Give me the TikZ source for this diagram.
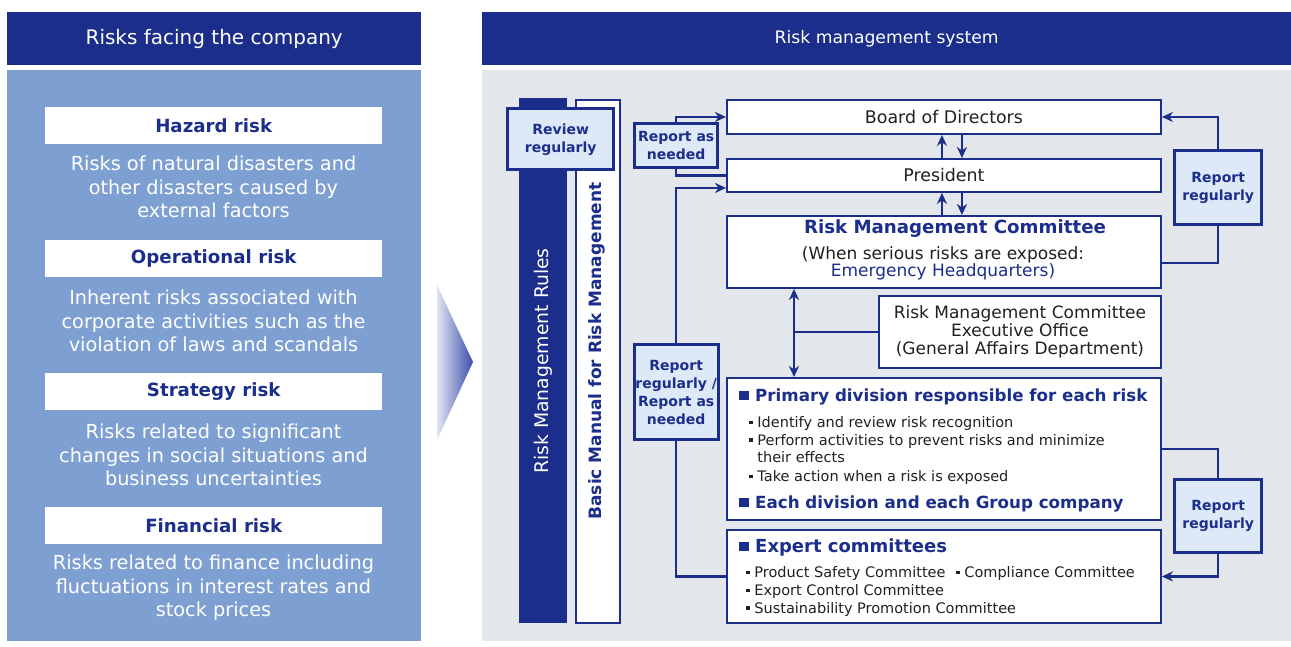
\documentclass[tikz,border=0pt]{standalone}
\usepackage{fontspec}
\setmainfont{DejaVu Sans}
\usetikzlibrary{arrows.meta,calc}
\definecolor{navy}{RGB}{28,46,140}
\definecolor{lblue}{RGB}{222,233,248}
\definecolor{panel}{RGB}{126,159,210}
\definecolor{pgray}{RGB}{227,230,234}
\definecolor{ink}{RGB}{35,31,32}
\definecolor{arrowblue}{RGB}{58,78,170}
\newcommand\fs[1]{\fontsize{#1}{#1}\selectfont}
\newcommand\bigsq{\raisebox{1.5pt}{\rule{10pt}{9pt}}\hspace{6pt}}
\newcommand\smsq{\raisebox{3.3pt}{\rule{3.6pt}{3.6pt}}\hspace{4.6pt}}
\begin{document}
\begin{tikzpicture}[x=1pt,y=-1pt,
  box/.style={draw=navy, line width=1.9pt, fill=white, anchor=north west, inner sep=0pt},
  lbl/.style={draw=navy, line width=3.4pt, fill=lblue, anchor=north west, inner sep=0pt, align=center, font=\fontsize{14}{18}\selectfont\bfseries, text=navy},
  riskbox/.style={fill=white, anchor=north west, inner sep=0pt, minimum width=337pt, minimum height=37pt, font=\fs{18.2}\bfseries, text=navy},
  desc/.style={align=center, text=white, font=\fontsize{19.3}{23.5}\selectfont, inner sep=0pt},
  hdr/.style={fill=navy, anchor=north west, inner sep=0pt, minimum height=53pt, text=white},
  conn/.style={draw=navy, line width=2.2pt},
  tip/.style={-{Stealth[length=11pt,width=10pt,inset=3.5pt]}},
  plain/.style={inner sep=0pt, anchor=base west, text=ink, font=\fs{14.5}},
  heading/.style={inner sep=0pt, anchor=base west, text=navy, font=\fs{16.7}\bfseries},
]
\fill[white] (0,0) rectangle (1291,646);
\useasboundingbox (0,0) rectangle (1291,646);

% ---------- left side ----------
\node[hdr, minimum width=414pt, font=\fs{20}] (lt) at (7,12) {Risks facing the company};
\node[fill=panel, anchor=north west, inner sep=0pt, minimum width=414pt, minimum height=571pt] (lp) at (7,70) {};

\node[riskbox] (hz) at (45,107) {Hazard risk};
\node[desc] (hzd) at (213.5,187) {Risks of natural disasters and\\other disasters caused by\\external factors};
\node[riskbox] (op) at (45,240) {Operational risk};
\node[desc] (opd) at (213.5,321) {Inherent risks associated with\\corporate activities such as the\\violation of laws and scandals};
\node[riskbox] (st) at (45,373) {Strategy risk};
\node[desc] (std) at (213.5,455) {Risks related to significant\\changes in social situations and\\business uncertainties};
\node[riskbox] (fi) at (45,507) {Financial risk};
\node[desc] (fid) at (213.5,588) {Risks related to finance including\\fluctuations in interest rates and\\stock prices};

% big arrow
\shade[left color=arrowblue!15!white, right color=arrowblue] (437,285) -- (473,362) -- (437,440) -- cycle;

% ---------- right side ----------
\node[hdr, minimum width=809pt, font=\fs{17.2}] (rt) at (482,12) {Risk management system};
\node[fill=pgray, anchor=north west, inner sep=0pt, minimum width=809pt, minimum height=571pt] (rp) at (482,70) {};

\node[fill=navy, anchor=north west, inner sep=0pt, minimum width=48pt, minimum height=525pt] (rmr) at (519,98) {};
\node[rotate=90, text=white, font=\fs{18.8}, inner sep=0pt] (rmrt) at (543,361) {Risk Management Rules};
\node[box, minimum width=44pt, minimum height=523pt] (bm) at (575,99) {};
\node[rotate=90, text=navy, font=\fs{17}\bfseries, inner sep=0pt] (bmt) at (597,351) {Basic Manual for Risk Management};
\node[lbl, minimum width=106pt, minimum height=61pt] (rev) at (506,107) {Review\\regularly};

\node[box, minimum width=434pt, minimum height=34pt, font=\fs{17.4}, text=ink] (board) at (726,99) {Board of Directors};
\node[box, minimum width=434pt, minimum height=33pt, font=\fs{17.4}, text=ink] (pres) at (726,158) {President};
\node[box, minimum width=434pt, minimum height=72pt] (rmc) at (726,215) {};
\node[text=navy, font=\fs{18.2}\bfseries, inner sep=0pt] (rmc1) at (955,229) {Risk Management Committee};
\node[text=ink, font=\fs{17}, inner sep=0pt] (rmc2) at (943,255) {(When serious risks are exposed:};
\node[text=navy, font=\fs{17}, inner sep=0pt] (rmc3) at (943,272) {Emergency Headquarters)};

\node[box, minimum width=282pt, minimum height=72pt, align=center, font=\fontsize{17}{18}\selectfont, text=ink] (exec) at (878,295) {Risk Management Committee\\Executive Office\\(General Affairs Department)};

\node[box, minimum width=434pt, minimum height=142pt] (prim) at (726,377) {};
\node[heading] (ph) at (739,401) {\bigsq Primary division responsible for each risk};
\node[plain] (pb1) at (749,427.5) {\smsq Identify and review risk recognition};
\node[plain] (pb2) at (749,445) {\smsq Perform activities to prevent risks and minimize};
\node[plain] (pb3) at (757.2,462.5) {their effects};
\node[plain] (pb4) at (749,481.5) {\smsq Take action when a risk is exposed};
\node[heading] (ph2) at (739,508) {\bigsq Each division and each Group company};

\node[box, minimum width=434pt, minimum height=93pt] (expert) at (726,529) {};
\node[heading, font=\fs{18}\bfseries] (eh) at (739,552.5) {\bigsq Expert committees};
\node[plain] (eb1) at (746,577.5) {\smsq Product Safety Committee};
\node[plain] (eb2) at (956,577.5) {\smsq Compliance Committee};
\node[plain] (eb3) at (746,595.5) {\smsq Export Control Committee};
\node[plain] (eb4) at (746,613) {\smsq Sustainability Promotion Committee};

% label boxes
\node[lbl, minimum width=83pt, minimum height=44pt] (ran) at (633,122) {Report as\\needed};
\node[lbl, minimum width=84pt, minimum height=95pt] (rrn) at (632.5,343) {Report\\regularly /\\Report as\\needed};
\node[lbl, minimum width=87pt, minimum height=74pt] (rrt) at (1173,149) {Report\\regularly};
\node[lbl, minimum width=87pt, minimum height=73pt] (rrb) at (1173,478) {Report\\regularly};

% connectors
\draw[conn, tip] (ran.north) |- (board.west);
\draw[conn] (ran.south) |- (pres.west);
\draw[conn, tip] (rrn.north) |- ([yshift=-12.5pt]pres.west);
\draw[conn] (rrn.south) |- (expert.west);

\draw[conn, tip] ([xshift=-2pt]pres.north) -- ([xshift=-2pt]board.south);
\draw[conn, tip] ([xshift=18pt]board.south) -- ([xshift=18pt]pres.north);
\draw[conn, tip] ([xshift=-2pt]rmc.north) -- ([xshift=-2pt]pres.south);
\draw[conn, tip] ([xshift=18pt]pres.south) -- ([xshift=18pt]rmc.north);

\draw[conn] ([yshift=-11pt]rmc.east) -| (rrt.south);
\draw[conn, tip] (rrt.north) |- (board.east);

\coordinate (dx) at (794,0);
\draw[conn, {Stealth[length=11pt,width=10pt,inset=3.5pt]}-{Stealth[length=11pt,width=10pt,inset=3.5pt]}] (dx |- rmc.south) -- (dx |- prim.north);
\draw[conn] (dx |- exec.west) -- (exec.west);

\draw[conn] (prim.east) -| (rrb.north);
\draw[conn, tip] (rrb.south) |- (expert.east);
\end{tikzpicture}
\end{document}
